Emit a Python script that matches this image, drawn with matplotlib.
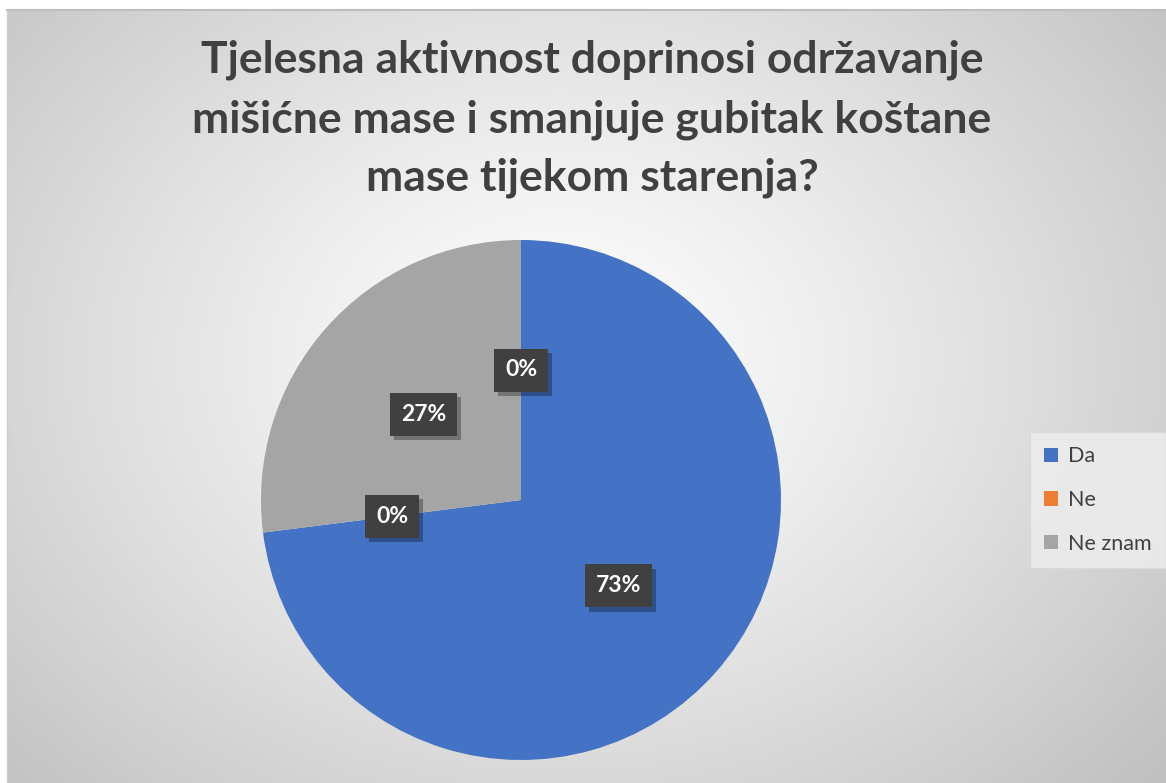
import numpy as np
import matplotlib
matplotlib.use("Agg")
import matplotlib.pyplot as plt
from matplotlib.patches import Rectangle
import matplotlib.patheffects as pe

# ---- data ----
categories = ["Da", "Ne", "Ne znam", ""]
values = [73, 0, 27, 0]
colors = ["#4472C4", "#ED7D31", "#A5A5A5", "#FFC000"]
legend_categories = ["Da", "Ne", "Ne znam"]
title_lines = ["Tjelesna aktivnost doprinosi održavanje",
               "mišićne mase i smanjuje gubitak koštane",
               "mase tijekom starenja?"]

W, H = 1166, 783
fig = plt.figure(figsize=(W / 100, H / 100), dpi=100)
fig.patch.set_facecolor("white")

def fx(px):
    return px / W

def fy(py):
    return 1 - py / H

# ---- background radial gradient (chart area) ----
bg = fig.add_axes([fx(7), 0, 1 - fx(7), 1 - 10 / H])
bg.set_axis_off()
nx, ny = 600, 400
xx, yy = np.meshgrid(np.linspace(7, W, nx), np.linspace(10, H, ny))
cx, cy = 560, 360
d = np.sqrt(((xx - cx) / 700) ** 2 + ((yy - cy) / 560) ** 2)
d = np.clip(d / d.max(), 0, 1)
lum = 1.0 - 0.25 * d ** 1.2
img = np.dstack([lum, lum, lum])
bg.imshow(img, extent=[0, 1, 0, 1], aspect="auto", origin="upper", zorder=0)
bg.set_xlim(0, 1)
bg.set_ylim(0, 1)
bg.plot([0, 1], [1, 1], color="#bdbdbd", lw=1.5, transform=bg.transAxes, clip_on=False)
bg.plot([0, 0], [0, 1], color="#cfcfcf", lw=1.0, transform=bg.transAxes, clip_on=False)

# ---- title ----
baselines = [73, 132, 191]
for line, b in zip(title_lines, baselines):
    fig.text(fx(592), fy(b), line, ha="center", va="baseline",
             fontsize=32, fontweight="bold", color="#404040", family="Lato")

# ---- pie ----
cxp, cyp, r = 521, 500, 260
ax = fig.add_axes([fx(cxp - r), fy(cyp + r), 2 * r / W, 2 * r / H])
wedges, _ = ax.pie(values, colors=colors, startangle=90, counterclock=False,
                   radius=1, wedgeprops=dict(linewidth=0))
ax.set_xlim(-1, 1)
ax.set_ylim(-1, 1)
ax.set_aspect("equal")
ax.set_axis_off()

total = sum(values)
for w, v in zip(wedges, values):
    ang = np.deg2rad((w.theta1 + w.theta2) / 2)
    x, y = 0.5 * np.cos(ang), 0.5 * np.sin(ang)
    label = f"{v / total * 100:.0f}%"
    t = ax.text(x, y, label, ha="center", va="center", fontsize=16.5, fontweight="bold",
                family="Lato", color="white",
                bbox=dict(boxstyle="square,pad=0.48", facecolor="#404040",
                          edgecolor="none"))
    t.get_bbox_patch().set_path_effects(
        [pe.SimplePatchShadow(offset=(3, -3), shadow_rgbFace="black", alpha=0.3),
         pe.Normal()])

# ---- legend ----
handles = [Rectangle((0, 0), 1, 1, facecolor=c, edgecolor="none")
           for c in colors[:len(legend_categories)]]
leg = fig.legend(handles, legend_categories, loc="center",
                 bbox_to_anchor=(fx(1098), fy(500)), frameon=True, fancybox=False,
                 prop=dict(family="Lato", size=15.5), labelcolor="#404040",
                 handlelength=0.65, handleheight=0.65, handletextpad=0.45,
                 labelspacing=1.1, borderpad=0.65, borderaxespad=0)
fr = leg.get_frame()
fr.set_facecolor("#ececec")
fr.set_edgecolor("#d9d9d9")
fr.set_alpha(0.9)
fr.set_linewidth(1.0)

fig.savefig("out.png", dpi=100)
